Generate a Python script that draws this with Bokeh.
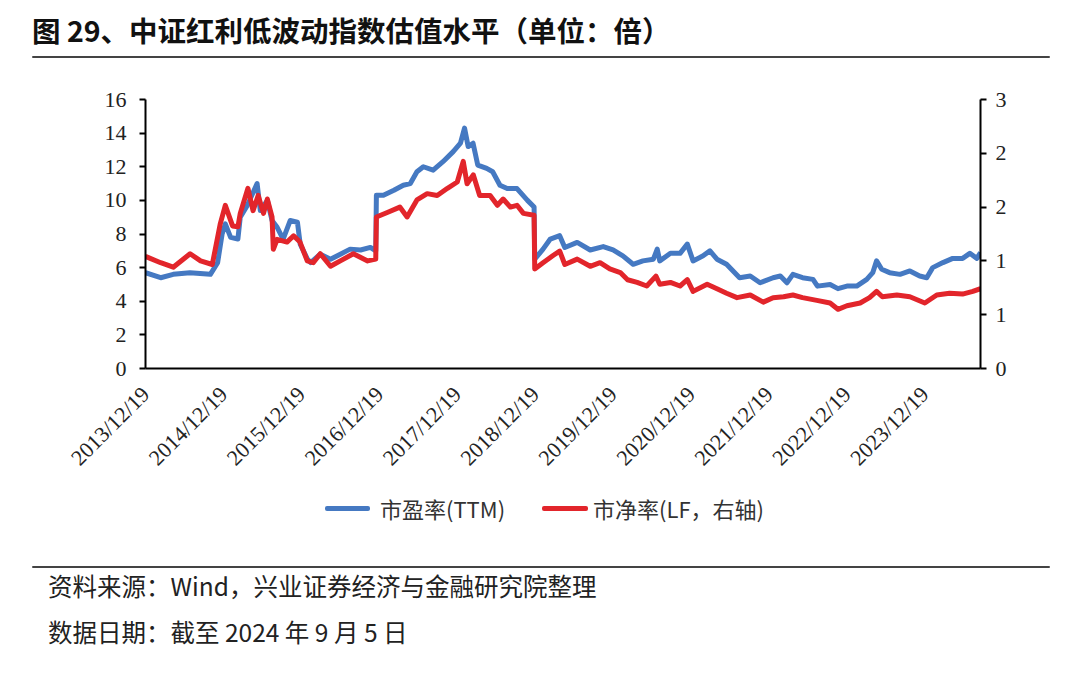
import pandas as pd
from math import pi
from bokeh.plotting import figure
from bokeh.layouts import column
from bokeh.models import (Range1d, LinearAxis, FixedTicker, PrintfTickFormatter,
                          DatetimeTickFormatter, Div)
from bokeh.embed import file_html
from bokeh.resources import INLINE

# ---------------- data ----------------
pe_dates = ["2013-12-19", "2014-02-28", "2014-04-28", "2014-07-15", "2014-10-19", "2014-11-22",
            "2014-12-13", "2014-12-28", "2015-01-22", "2015-02-25", "2015-03-08", "2015-04-10",
            "2015-05-26", "2015-06-10", "2015-07-13", "2015-08-04", "2015-08-28", "2015-09-25",
            "2015-10-28", "2015-12-01", "2015-12-14", "2016-01-17", "2016-02-01", "2016-03-17",
            "2016-05-04", "2016-06-19", "2016-08-04", "2016-09-22", "2016-11-07", "2016-12-02",
            "2016-12-05", "2017-01-07", "2017-02-25", "2017-04-10", "2017-05-13", "2017-06-13",
            "2017-07-13", "2017-08-28", "2017-10-13", "2017-11-30", "2018-01-03", "2018-01-22",
            "2018-02-08", "2018-03-03", "2018-03-25", "2018-05-06", "2018-06-03", "2018-07-07",
            "2018-08-10", "2018-09-25", "2018-11-13", "2018-12-14", "2018-12-17", "2019-01-25",
            "2019-02-28", "2019-04-13", "2019-05-07", "2019-07-04", "2019-09-03", "2019-11-03",
            "2019-12-19", "2020-02-03", "2020-03-22", "2020-05-07", "2020-06-25", "2020-07-13",
            "2020-07-25", "2020-09-13", "2020-10-28", "2020-12-01", "2020-12-28", "2021-02-13",
            "2021-03-17", "2021-04-19", "2021-06-03", "2021-08-03", "2021-09-22", "2021-11-07",
            "2022-01-07", "2022-02-10", "2022-03-13", "2022-04-10", "2022-05-25", "2022-07-13",
            "2022-08-03", "2022-10-01", "2022-11-07", "2022-12-19", "2023-02-03", "2023-03-22",
            "2023-04-19", "2023-05-07", "2023-05-31", "2023-07-07", "2023-08-25", "2023-10-10",
            "2023-11-25", "2023-12-28", "2024-01-25", "2024-03-13", "2024-04-28", "2024-06-13",
            "2024-07-17", "2024-08-19", "2024-09-05"]
pe_values = [5.7, 5.4, 5.6, 5.7, 5.6, 6.3,
             8.0, 8.6, 7.8, 7.7, 9.0, 9.7,
             11.0, 9.4, 10.0, 8.8, 8.4, 7.7,
             8.8, 8.7, 7.4, 6.5, 6.3, 6.8,
             6.5, 6.8, 7.1, 7.05, 7.2, 7.0,
             10.3, 10.3, 10.6, 10.9, 11.0, 11.7,
             12.0, 11.8, 12.3, 12.9, 13.4, 14.3,
             13.2, 13.4, 12.1, 11.9, 11.7, 10.9,
             10.7, 10.7, 10.0, 9.6, 6.5, 7.1,
             7.7, 7.9, 7.2, 7.5, 7.05, 7.25,
             7.05, 6.7, 6.2, 6.4, 6.5, 7.1,
             6.4, 6.85, 6.85, 7.4, 6.4, 6.7,
             7.0, 6.5, 6.2, 5.4, 5.5, 5.1,
             5.4, 5.5, 5.1, 5.6, 5.4, 5.3,
             4.9, 5.0, 4.75, 4.9, 4.9, 5.3,
             5.7, 6.4, 5.9, 5.7, 5.6, 5.8,
             5.5, 5.4, 6.0, 6.3, 6.55, 6.55,
             6.85, 6.55, 6.9]

pb_dates = ["2013-12-19", "2014-02-28", "2014-04-28", "2014-07-16", "2014-09-03", "2014-10-28",
            "2014-12-04", "2014-12-28", "2015-01-31", "2015-02-25", "2015-03-08", "2015-04-13",
            "2015-05-07", "2015-05-31", "2015-06-25", "2015-07-13", "2015-08-04", "2015-08-10",
            "2015-08-28", "2015-10-13", "2015-11-13", "2015-12-13", "2016-01-16", "2016-02-13",
            "2016-03-17", "2016-05-04", "2016-06-19", "2016-08-19", "2016-10-25", "2016-12-02",
            "2016-12-05", "2017-01-25", "2017-03-25", "2017-04-28", "2017-06-13", "2017-07-31",
            "2017-09-16", "2017-11-03", "2017-12-19", "2018-01-16", "2018-02-03", "2018-03-04",
            "2018-04-03", "2018-05-22", "2018-06-25", "2018-07-22", "2018-08-25", "2018-09-25",
            "2018-10-25", "2018-12-14", "2018-12-17", "2019-01-25", "2019-03-13", "2019-04-13",
            "2019-05-07", "2019-07-04", "2019-09-03", "2019-10-19", "2019-12-04", "2020-01-22",
            "2020-02-25", "2020-04-10", "2020-05-25", "2020-07-07", "2020-07-25", "2020-09-13",
            "2020-10-28", "2020-12-01", "2020-12-28", "2021-03-04", "2021-04-19", "2021-06-03",
            "2021-07-22", "2021-09-22", "2021-11-22", "2022-01-07", "2022-02-25", "2022-04-10",
            "2022-05-25", "2022-07-31", "2022-10-01", "2022-11-07", "2022-12-19", "2023-02-19",
            "2023-04-04", "2023-05-07", "2023-06-03", "2023-08-10", "2023-10-10", "2023-12-19",
            "2024-02-13", "2024-04-13", "2024-06-13", "2024-07-31", "2024-09-05"]
pb_values = [1.25, 1.18, 1.13, 1.28, 1.20, 1.16,
             1.61, 1.82, 1.59, 1.58, 1.73, 2.01,
             1.76, 1.93, 1.73, 1.89, 1.69, 1.33,
             1.44, 1.41, 1.48, 1.41, 1.20, 1.18,
             1.28, 1.14, 1.20, 1.28, 1.20, 1.22,
             1.69, 1.74, 1.80, 1.69, 1.88, 1.95,
             1.93, 2.01, 2.08, 2.31, 2.06, 2.16,
             1.93, 1.93, 1.82, 1.89, 1.80, 1.82,
             1.73, 1.71, 1.11, 1.18, 1.26, 1.31,
             1.16, 1.22, 1.14, 1.18, 1.11, 1.07,
             0.99, 0.96, 0.92, 1.03, 0.94, 0.96,
             0.92, 0.99, 0.86, 0.94, 0.89, 0.84,
             0.79, 0.82, 0.74, 0.79, 0.80, 0.82,
             0.79, 0.76, 0.73, 0.66, 0.70, 0.73,
             0.79, 0.86, 0.80, 0.82, 0.80, 0.73,
             0.82, 0.84, 0.83, 0.86, 0.89]

x_tick_labels = ["2013/12/19", "2014/12/19", "2015/12/19", "2016/12/19", "2017/12/19",
                 "2018/12/19", "2019/12/19", "2020/12/19", "2021/12/19", "2022/12/19",
                 "2023/12/19"]
left_ticks = [0, 2, 4, 6, 8, 10, 12, 14, 16]
right_ticks = [0, 0.6, 1.2, 1.8, 2.4, 3.0]
x_start, x_end = "2013-12-19", "2024-09-05"

title_text = "图 29、中证红利低波动指数估值水平（单位：倍）"
pe_name = "市盈率(TTM)"
pb_name = "市净率(LF，右轴)"
source_text = "资料来源：Wind，兴业证券经济与金融研究院整理"
date_text = "数据日期：截至 2024 年 9 月 5 日"

BLUE = "#4579C2"
RED = "#E2252B"
RULE = "#444444"
CJK = "Noto Sans CJK SC"
AX_FONT = "Liberation Serif"

W = 1064
H_HEAD = 64          # header: y 0..64
Y_MAIN_END = 482     # main figure: y 64..482
H_TOTAL = 673


def ms(s):
    return pd.Timestamp(s).timestamp() * 1000.0


def txt(left, center_y, text, size, extra=""):
    return (f'<div style="position:absolute;left:{left}px;top:{center_y - 17}px;'
            f'font-family:\'{CJK}\';font-size:{size}px;line-height:34px;color:#222222;'
            f'white-space:nowrap;{extra}">{text}</div>')


def bar(left, top, width, height, color):
    return (f'<div style="position:absolute;left:{left}px;top:{top}px;width:{width}px;'
            f'height:{height}px;background:{color};border-radius:2px;"></div>')


# ---------------- header (HTML) ----------------
head_html = (f'<div style="position:relative;width:{W}px;height:{H_HEAD}px;">'
             + txt(32, 30, title_text, 28.5, "font-weight:bold;color:#111111;")
             + bar(32, 56, 1018, 2, RULE) + '</div>')
head = Div(text=head_html, width=W, height=H_HEAD, margin=0)

# ---------------- main chart ----------------
H_MAIN = Y_MAIN_END - H_HEAD
p = figure(width=W, height=H_MAIN, output_backend="svg", toolbar_location=None, title=None,
           x_axis_type="datetime",
           x_range=Range1d(ms(x_start), ms(x_end)), y_range=Range1d(0, 16),
           min_border_left=145, min_border_right=W - 980, min_border_top=99 - H_HEAD,
           min_border_bottom=Y_MAIN_END - 375, margin=0)
p.outline_line_color = None
p.xgrid.visible = False
p.ygrid.visible = False
p.background_fill_color = "white"
p.border_fill_color = "white"

p.extra_y_ranges = {"pb": Range1d(0, 3)}

ya = p.yaxis[0]
ya.ticker = FixedTicker(ticks=left_ticks)
ya.axis_line_width = 2
ya.axis_line_color = "black"
ya.major_tick_line_width = 2
ya.major_tick_in = 0
ya.major_tick_out = 6
ya.minor_tick_line_color = None
ya.major_label_standoff = 13
ya.major_label_text_font = AX_FONT
ya.major_label_text_font_size = "22px"
ya.major_label_text_color = "#222222"

ra = LinearAxis(y_range_name="pb", ticker=FixedTicker(ticks=right_ticks),
                formatter=PrintfTickFormatter(format="%.0f"))
ra.axis_line_width = 2
ra.axis_line_color = "black"
ra.major_tick_line_width = 2
ra.major_tick_in = 0
ra.major_tick_out = 6
ra.minor_tick_line_color = None
ra.major_label_standoff = 9
ra.major_label_text_font = AX_FONT
ra.major_label_text_font_size = "22px"
ra.major_label_text_color = "#222222"
p.add_layout(ra, "right")

xa = p.xaxis[0]
xa.ticker = FixedTicker(ticks=[ms(t.replace("/", "-")) for t in x_tick_labels])
fmt = "%Y/%m/%d"
xa.formatter = DatetimeTickFormatter(microseconds=fmt, milliseconds=fmt, seconds=fmt, minsec=fmt,
                                     minutes=fmt, hourmin=fmt, hours=fmt, days=fmt,
                                     months=fmt, years=fmt)
xa.axis_line_width = 2
xa.axis_line_color = "black"
xa.major_tick_line_color = None
xa.minor_tick_line_color = None
xa.major_label_orientation = pi / 4
xa.major_label_standoff = 16
xa.major_label_text_font = AX_FONT
xa.major_label_text_font_size = "22px"
xa.major_label_text_color = "#222222"

pe_x = [ms(d) for d in pe_dates]
pb_x = [ms(d) for d in pb_dates]
p.line(pe_x, pe_values, line_color=BLUE, line_width=5, line_join="round")
p.line(pb_x, pb_values, line_color=RED, line_width=5, line_join="round", y_range_name="pb")

# ---------------- footer (HTML): legend, rule, notes ----------------
H_FOOT = H_TOTAL - Y_MAIN_END
o = Y_MAIN_END
foot_html = (f'<div style="position:relative;width:{W}px;height:{H_FOOT}px;">'
             + bar(325, 508 - o - 2, 45, 5, BLUE) + txt(380, 508 - o, pe_name, 22, "color:#333333;")
             + bar(542, 508 - o - 2, 46, 5, RED) + txt(593, 508 - o, pb_name, 22, "color:#333333;")
             + bar(32, 566 - o, 1018, 2, RULE)
             + txt(48, 586 - o, source_text, 24.5)
             + txt(48, 632 - o, date_text, 24.5)
             + '</div>')
foot = Div(text=foot_html, width=W, height=H_FOOT, margin=0)

layout = column(head, p, foot, spacing=0)
open("out.html", "w").write(file_html(layout, INLINE))
